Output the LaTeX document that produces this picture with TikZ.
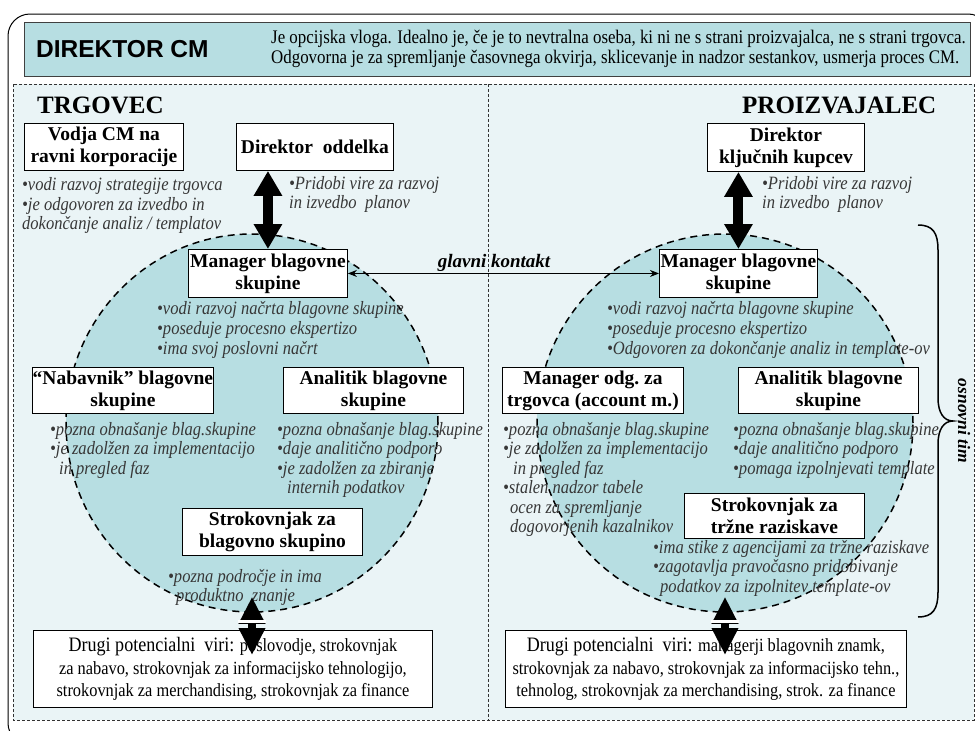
\documentclass[tikz,border=0pt]{standalone}
\usepackage{fontspec}
\setmainfont{Liberation Serif}
\newfontfamily\narrowfont[FakeStretch=0.88]{Liberation Serif}
\newfontfamily\headsans{Liberation Sans}
\usetikzlibrary{arrows.meta,calc,shapes.geometric}
\definecolor{tealfill}{RGB}{183,222,226}
\definecolor{lightbg}{RGB}{234,244,246}
\definecolor{bulletgray}{RGB}{55,55,55}
\tikzset{
  rolebox/.style={draw=black, line width=0.9pt, fill=white, anchor=north west, inner sep=0pt, align=center,
    font=\fontsize{19.5}{22}\selectfont\bfseries},
  bul/.style={anchor=north west, inner sep=0pt, align=left, text=bulletgray,
    font=\narrowfont\fontsize{18.8}{19.5}\selectfont\itshape},
  bigarrow/.style={line width=10pt, {Triangle[width=27pt,length=25pt]}-{Triangle[width=27pt,length=25pt]}},
  smallarrow/.style={line width=8pt, {Triangle[width=25pt,length=27pt]}-{Triangle[width=25pt,length=27pt]}},
  thinarrow/.style={line width=0.9pt, {Stealth[width=7pt,length=9pt]}-{Stealth[width=7pt,length=9pt]}},
  team/.style={draw=black, line width=1.5pt, dash pattern=on 7pt off 5pt, fill=tealfill, ellipse, inner sep=0pt},
  sidehead/.style={anchor=base west, inner sep=0pt, font=\fontsize{25}{28}\selectfont\bfseries},
  botbox/.style={draw=black, line width=0.9pt, fill=white, anchor=north west, inner sep=0pt, align=center,
    font=\narrowfont\fontsize{18.6}{22.5}\selectfont},
}
\begin{document}
\begin{tikzpicture}[x=1pt,y=-1pt]
\useasboundingbox (0,0) rectangle (975,731);
\fill[white] (0,0) rectangle (975,731);
% outer frame
\draw[line width=1pt, rounded corners=22pt] (8,14) rectangle (990,745);
% top box
\node[draw=black!75, line width=1pt, fill=tealfill, anchor=north west, minimum width=946pt, minimum height=54pt, inner sep=0pt] (topbox) at (24,22) {};
\node[anchor=west, inner sep=0pt, font=\headsans\fontsize{24.5}{28}\selectfont\bfseries] (dircm) at (36,49.5) {DIREKTOR CM};
\node[anchor=west, inner sep=0pt, align=left, font=\narrowfont\fontsize{19.2}{20.5}\selectfont] (dirdesc) at (271,49) {Je opcijska vloga. Idealno je, če je to nevtralna oseba, ki ni ne s strani proizvajalca,\ ne s strani trgovca.\\Odgovorna je za spremljanje časovnega okvirja,\ sklicevanje\ in nadzor sestankov,\ usmerja proces CM.};
% halves
\fill[lightbg] (13,84) rectangle (974,720);
\draw[black!80, line width=0.8pt, dash pattern=on 3pt off 2pt] (13,84) rectangle (974,720);
\draw[black!80, line width=0.8pt, dash pattern=on 3pt off 2pt] (488,84) -- (488,720);
% team circles
\node[team, minimum width=372pt, minimum height=378pt] (cL) at (252,423) {};
\node[team, minimum width=376pt, minimum height=378pt] (cR) at (725,423) {};
% side headings
\node[sidehead] (trg) at (37,113) {TRGOVEC};
\node[sidehead] (pro) at (742,113) {PROIZVAJALEC};
% boxes left
\node[rolebox, minimum width=159pt, minimum height=47pt] (vodja) at (24,123) {Vodja\ CM\ na\\ravni\ korporacije};
\node[rolebox, minimum width=157pt, minimum height=47pt] (dirodd) at (236,123) {Direktor\ \ oddelka};
\node[rolebox, minimum width=159pt, minimum height=48pt] (mgrL) at (188,249) {Manager blagovne\\skupine};
\node[rolebox, minimum width=181pt, minimum height=46pt] (nab) at (32,367) {“Nabavnik”\ blagovne\\skupine};
\node[rolebox, minimum width=180pt, minimum height=46pt] (anaL) at (283,367) {Analitik\ blagovne\\skupine};
\node[rolebox, minimum width=180pt, minimum height=47pt] (strokL) at (182,508) {Strokovnjak\ za\\blagovno\ skupino};
% boxes right
\node[rolebox, minimum width=157pt, minimum height=48pt] (dirkk) at (707,123) {Direktor\\ključnih\ kupcev};
\node[rolebox, minimum width=158pt, minimum height=48pt] (mgrR) at (659,249) {Manager blagovne\\skupine};
\node[rolebox, minimum width=181pt, minimum height=46pt] (mgrodg) at (502,367) {Manager\ odg.\ za\\trgovca\ (account\ m.)};
\node[rolebox, minimum width=180pt, minimum height=46pt] (anaR) at (738,367) {Analitik\ blagovne\\skupine};
\node[rolebox, minimum width=180pt, minimum height=45pt] (strokR) at (684,493) {Strokovnjak\ za\\tržne\ raziskave};
% bottom boxes
\node[botbox, minimum width=399pt, minimum height=77pt] (botL) at (33,630) {{\fontsize{20.5}{22.5}\selectfont Drugi\ potencialni\ \ viri:} poslovodje, strokovnjak\\za nabavo, strokovnjak za informacijsko tehnologijo,\\strokovnjak za merchandising, strokovnjak za finance};
\node[botbox, minimum width=401pt, minimum height=77pt] (botR) at (505,630) {{\fontsize{20.5}{22.5}\selectfont Drugi\ potencialni\ \ viri:} managerji blagovnih znamk,\\strokovnjak za nabavo, strokovnjak za informacijsko tehn.,\\tehnolog, strokovnjak za merchandising, strok. za finance};
% bullets left
\node[bul] (bvodja) at (22,177) {\strut•vodi razvoj strategije trgovca\\•je odgovoren za izvedbo in\\dokončanje analiz / templatov};
\node[bul] (bdirodd) at (289,175.5) {\strut•Pridobi vire za razvoj\\in izvedbo\ \ planov};
\node[bul, font=\narrowfont\fontsize{18.8}{20}\selectfont\itshape] (bmgrL) at (157,300) {\strut•vodi razvoj načrta blagovne skupine\\•poseduje procesno ekspertizo\\•ima svoj poslovni načrt};
\node[bul] (bnab) at (50,421.5) {\strut•pozna obnašanje blag.skupine\\•je zadolžen za implementacijo\\\hspace*{9pt}in pregled faz};
\node[bul] (banaL) at (277,421.5) {\strut•pozna obnašanje blag.skupine\\•daje analitično podporo\\•je zadolžen za zbiranje\\\hspace*{10pt}internih podatkov};
\node[bul] (bstrokL) at (168,568.5) {\strut•pozna področje in ima\\\hspace*{8pt}produktno\ \ znanje};
% bullets right
\node[bul] (bdirkk) at (762,175.5) {\strut•Pridobi vire za razvoj\\in izvedbo\ \ planov};
\node[bul, font=\narrowfont\fontsize{18.8}{20}\selectfont\itshape] (bmgrR) at (607,300) {\strut•vodi razvoj načrta blagovne skupine\\•poseduje procesno ekspertizo\\•Odgovoren za dokončanje analiz in template-ov};
\node[bul] (bmgrodg) at (503,421.5) {\strut•pozna obnašanje blag.skupine\\•je zadolžen za implementacijo\\\hspace*{10pt}in pregled faz\\•stalen nadzor tabele\\\hspace*{7pt}ocen za spremljanje\\\hspace*{7pt}dogovorjenih kazalnikov};
\node[bul] (banaR) at (733,421.5) {\strut•pozna obnašanje blag.skupine\\•daje analitično podporo\\•pomaga izpolnjevati template};
\node[bul] (bstrokR) at (653,539.5) {\strut•ima stike z agencijami za tržne raziskave\\•zagotavlja pravočasno pridobivanje\\\hspace*{7pt}podatkov za izpolnitev template-ov};
% connectors
\draw[bigarrow] (mgrL.north |- dirodd.south) -- (mgrL.north);
\draw[bigarrow] (mgrR.north |- dirkk.south) -- (mgrR.north);
\draw[thinarrow] (mgrL.east) -- (mgrR.west);
\node[anchor=base, inner sep=0pt, font=\fontsize{19}{20}\selectfont\bfseries\itshape] (glavni) at (494,267) {glavni kontakt};
\draw[smallarrow] ([yshift=16pt]cL.south) -- ([yshift=-25pt]botL.north -| cL.south);
\draw[smallarrow] ([yshift=16pt]cR.south) -- ([yshift=-25pt]botR.north -| cR.south);
\coordinate (gapL) at ($(cL.south)!0.5!(botL.north -| cL.south)$);
\coordinate (gapR) at ($(cR.south)!0.5!(botR.north -| cR.south)$);
\draw[white, line width=3.5pt] ([xshift=-14pt]gapL) -- ([xshift=14pt]gapL);
\draw[white, line width=3.5pt] ([xshift=-14pt]gapR) -- ([xshift=14pt]gapR);
% brace
\draw[line width=1.5pt] (918,225) .. controls (933,225) and (938,233) .. (938,250) -- (938,398)
  .. controls (938,413) and (944,421) .. (953,421) .. controls (944,421) and (938,429) .. (938,444)
  -- (938,592) .. controls (938,609) and (933,617) .. (918,617);
\node[rotate=-90, inner sep=0pt, font=\fontsize{17.5}{18}\selectfont\bfseries\itshape] (osn) at (964,421) {osnovni tim};
\end{tikzpicture}
\end{document}
